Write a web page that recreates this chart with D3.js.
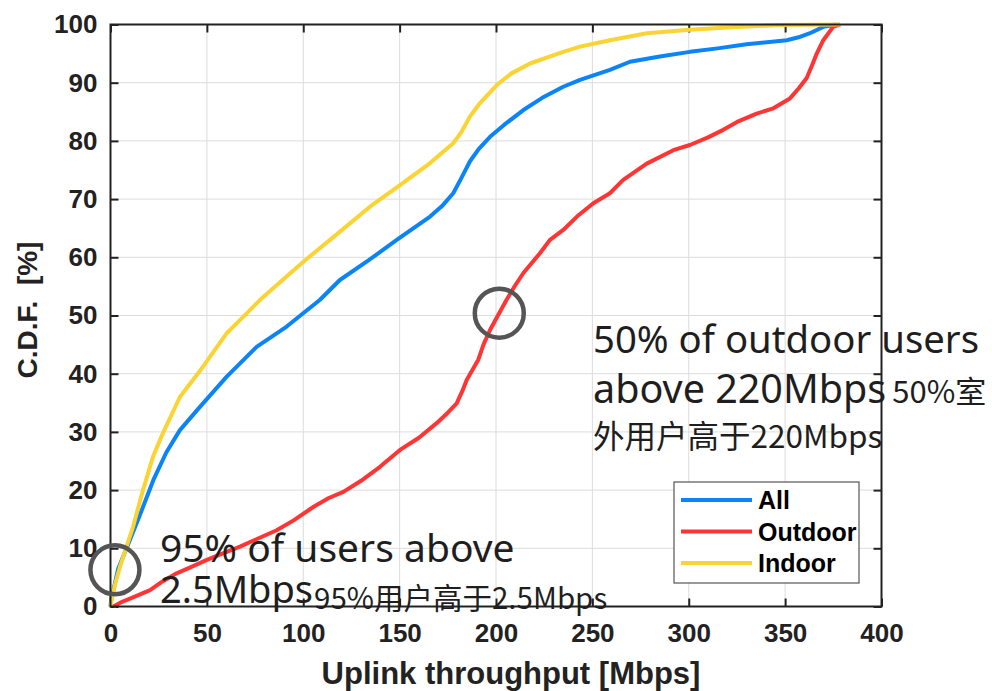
<!DOCTYPE html>
<html>
<head>
<meta charset="utf-8">
<script src="https://cdn.jsdelivr.net/npm/d3@7"></script>
<style>
  html, body { margin: 0; padding: 0; background: #fff; }
  svg { display: block; }
</style>
</head>
<body>
<svg id="chart" width="992" height="691"></svg>
<script>
// Uplink throughput CDFs: [throughput in Mbps, cumulative %]
const allUsers = [
  [0,0],[0.5,1.5],[1.5,2.8],[4,6.5],[10,11.4],[15,15.5],[22.2,21.7],[29,26.5],[36,30.3],
  [46.4,34.3],[60.3,39.5],[75.8,44.6],[91.4,48.1],[108.7,52.7],[119,56.1],[134,59.5],
  [148.5,63],[165.8,67],[172,68.8],[177.8,71],[182,73.6],[186.5,76.5],[191,78.6],[196.9,80.7],[204,82.7],
  [214.2,85.3],[224,87.4],[234.9,89.3],[243.6,90.5],[259.1,92.2],[269.5,93.6],[285,94.5],
  [300.6,95.3],[315,95.9],[330,96.6],[350.8,97.3],[357,97.8],[362.9,98.5],[369.8,99.6],[376.7,100]
];
const outdoorUsers = [
  [1.5,0],[6,0.8],[12,1.6],[20.5,2.8],[27,4.3],[34.3,5.7],[42,6.8],[50,8],[58,9.1],[67.2,10.3],
  [76,11.6],[86.2,13.1],[95,14.8],[105.2,17.1],[113,18.6],[120.8,19.7],[130,21.6],[139.8,24],
  [150.2,26.9],[160,29],[169.2,31.5],[175,33.3],[179.6,34.9],[182.5,37],[184.8,38.9],[190.8,42.4],
  [193.5,45],[196.9,47.5],[201,50],[205.5,52.7],[210,55.2],[214.2,57.3],[222.8,60.7],[228,63],
  [234.9,64.7],[242,67],[250.5,69.3],[259.1,71],[266,73.3],[278.2,76.1],[292,78.4],[300.6,79.3],
  [310,80.6],[317.9,81.9],[326,83.4],[335.2,84.7],[343.9,85.6],[352.5,87.3],[357,89],[361.2,90.8],
  [364,93],[366.4,95],[369.8,97.3],[374.9,99.6],[378.5,100]
];
const indoorUsers = [
  [0,0],[0.6,1.1],[2.5,4],[4.9,6.8],[8,10],[11.7,13.7],[16,19],[22,25.7],[27.2,29.8],[36,36],
  [48,41.2],[60.4,47],[70.8,50.4],[77.6,52.7],[90,56.3],[101,59.5],[113.9,63],[134.6,68.7],
  [150.2,72.4],[165.8,76.2],[177.8,79.6],[182,81.5],[186.5,84.2],[191.7,86.5],[200.4,89.6],
  [208,91.6],[217.6,93.3],[234.9,95.3],[243.6,96.2],[259.1,97.3],[278.2,98.5],[300.6,99.1],
  [320,99.5],[347.3,99.9],[378.5,100]
];

const seriesNames = ["All", "Outdoor", "Indoor"];
const seriesColors = ["#0a84f6", "#ff3434", "#fbd332"];
const xTicks = [0, 50, 100, 150, 200, 250, 300, 350, 400];
const yTicks = [0, 10, 20, 30, 40, 50, 60, 70, 80, 90, 100];

// highlighted points: [Mbps, %]
const markerPoints = [[2.3, 6.3], [201.7, 50.4]];

const svg = d3.select("#chart");
const plotLeft = 110.5, plotRight = 881.5, plotTop = 24.5, plotBottom = 606.5;

const x = d3.scaleLinear().domain([0, 400]).range([plotLeft, plotRight]);
const y = d3.scaleLinear().domain([0, 100]).range([plotBottom, plotTop]);

const tickFont = "'Liberation Sans', Arial, Helvetica, sans-serif";
const axisColor = "#222";

// grid
const grid = svg.append("g");
grid.selectAll(".gx").data(xTicks.slice(1, -1)).join("line")
  .attr("x1", d => x(d)).attr("x2", d => x(d))
  .attr("y1", plotTop).attr("y2", plotBottom)
  .attr("stroke", "#dcdcdc").attr("stroke-width", 1);
grid.selectAll(".gy").data(yTicks.slice(1, -1)).join("line")
  .attr("y1", d => y(d)).attr("y2", d => y(d))
  .attr("x1", plotLeft).attr("x2", plotRight)
  .attr("stroke", "#dcdcdc").attr("stroke-width", 1);

// axes (ticks pointing inward, box on)
function styleAxis(g) {
  g.select(".domain").remove();
  g.selectAll(".tick line").attr("stroke", axisColor).attr("stroke-width", 2);
  g.selectAll(".tick text")
    .attr("fill", "#222").attr("font-family", tickFont)
    .attr("font-weight", "bold").attr("font-size", 26);
}
svg.append("g").attr("transform", `translate(0,${plotBottom})`)
  .call(d3.axisBottom(x).tickValues(xTicks).tickSizeInner(-8).tickSizeOuter(0).tickPadding(17))
  .call(styleAxis);
svg.append("g").attr("transform", `translate(0,${plotTop})`)
  .call(d3.axisTop(x).tickValues(xTicks).tickSizeInner(-8).tickSizeOuter(0).tickFormat(""))
  .call(styleAxis);
svg.append("g").attr("transform", `translate(${plotLeft},0)`)
  .call(d3.axisLeft(y).tickValues(yTicks).tickSizeInner(-8).tickSizeOuter(0).tickPadding(13))
  .call(styleAxis);
svg.append("g").attr("transform", `translate(${plotRight},0)`)
  .call(d3.axisRight(y).tickValues(yTicks).tickSizeInner(-8).tickSizeOuter(0).tickFormat(""))
  .call(styleAxis);

// curves
const line = d3.line().x(d => x(d[0])).y(d => y(d[1]));
const seriesData = [allUsers, outdoorUsers, indoorUsers];
svg.append("g").selectAll("path").data(seriesData).join("path")
  .attr("d", line)
  .attr("fill", "none")
  .attr("stroke", (d, i) => seriesColors[i])
  .attr("stroke-width", 4)
  .attr("stroke-linejoin", "round");

// axis frame
svg.append("rect")
  .attr("x", plotLeft).attr("y", plotTop)
  .attr("width", plotRight - plotLeft).attr("height", plotBottom - plotTop)
  .attr("fill", "none").attr("stroke", axisColor).attr("stroke-width", 2);

// axis titles
svg.append("text")
  .attr("x", 511).attr("y", 684)
  .attr("text-anchor", "middle")
  .attr("font-family", tickFont).attr("font-weight", "bold").attr("font-size", 31)
  .attr("fill", "#222")
  .text("Uplink throughput [Mbps]");
svg.append("text")
  .attr("transform", "translate(37,310) rotate(-90)")
  .attr("text-anchor", "middle")
  .attr("font-family", tickFont).attr("font-weight", "bold").attr("font-size", 28)
  .attr("fill", "#222")
  .attr("xml:space", "preserve")
  .text("C.D.F.  [%]");

// legend
const lg = svg.append("g");
lg.append("rect")
  .attr("x", 674).attr("y", 482).attr("width", 185).attr("height", 101)
  .attr("fill", "#fff").attr("stroke", "#555").attr("stroke-width", 1.2);
seriesNames.forEach((name, i) => {
  const ly = 500 + i * 31.5;
  lg.append("line")
    .attr("x1", 681).attr("x2", 752).attr("y1", ly).attr("y2", ly)
    .attr("stroke", seriesColors[i]).attr("stroke-width", 4);
  lg.append("text")
    .attr("x", 758).attr("y", ly + 9)
    .attr("font-family", tickFont).attr("font-weight", "bold").attr("font-size", 25)
    .attr("fill", "#000")
    .text(name);
});

// markers
svg.append("g").selectAll("circle").data(markerPoints).join("circle")
  .attr("cx", d => x(d[0])).attr("cy", d => y(d[1]))
  .attr("r", 24.5)
  .attr("fill", "none").attr("stroke", "#555").attr("stroke-width", 4.5);

// annotations
const noteFont = "'Noto Sans', 'Noto Sans CJK SC', sans-serif";
const cjkFont = "'Noto Sans CJK SC', 'Noto Sans', sans-serif";
const noteColor = "#1e1e1e";

function note(xp, yp, size, font, str) {
  return svg.append("text")
    .attr("x", xp).attr("y", yp)
    .attr("font-family", font).attr("font-size", size)
    .attr("fill", noteColor)
    .text(str);
}
note(593, 353, 38.3, noteFont, "50% of outdoor users");
const l2 = svg.append("text").attr("x", 593).attr("y", 403).attr("fill", noteColor);
l2.append("tspan").attr("font-family", noteFont).attr("font-size", 39.5).text("above 220Mbps");
l2.append("tspan").attr("font-family", cjkFont).attr("font-size", 31).attr("dx", 6).text("50%室");
note(593, 448, 31.5, cjkFont, "外用户高于220Mbps");

note(160, 562, 39, noteFont, "95% of users above");
const l4 = svg.append("text").attr("x", 160).attr("y", 603).attr("fill", noteColor);
l4.append("tspan").attr("font-family", noteFont).attr("font-size", 38).text("2.5Mbps");
l4.append("tspan").attr("font-family", cjkFont).attr("font-size", 29.5).attr("dx", 1).attr("dy", 6).text("95%用户高于2.5Mbps");
</script>
</body>
</html>
